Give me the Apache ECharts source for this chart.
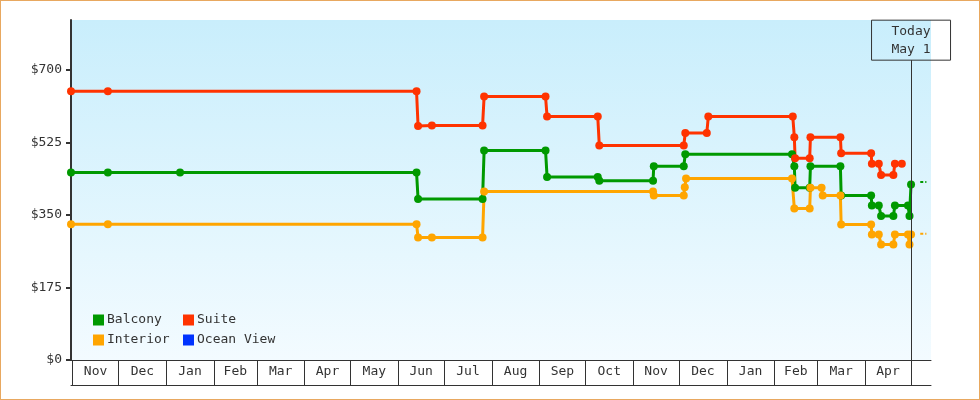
<!DOCTYPE html>
<html>
<head>
<meta charset="utf-8">
<script src="https://cdn.jsdelivr.net/npm/echarts@6/dist/echarts.min.js"></script>
<style>
html,body{margin:0;padding:0;background:#fff;}
#wrap{position:relative;width:980px;height:400px;}
#chart{position:absolute;left:0;top:0;width:980px;height:400px;}
#frame{position:absolute;left:0;top:0;width:980px;height:400px;box-sizing:border-box;border:1px solid #e8a860;pointer-events:none;}
</style>
</head>
<body>
<div id="wrap"><div id="chart"></div><div id="frame"></div></div>
<script>
// ---- data ----
const suiteDates = ['2021-10-31','2021-11-24','2022-06-13','2022-06-14','2022-06-23','2022-07-26','2022-07-27','2022-09-05','2022-09-06','2022-10-09','2022-10-10','2022-12-04','2022-12-05','2022-12-19','2022-12-20','2023-02-13','2023-02-14','2023-02-14 12:00','2023-02-24','2023-02-24 12:00','2023-03-16','2023-03-16 12:00','2023-04-05','2023-04-05 12:00','2023-04-10','2023-04-11 12:00','2023-04-19 12:00','2023-04-20 12:00','2023-04-25'];
const suiteValues = [649,649,649,565,566,566,636,636,588,588,518,518,548,548,588,588,538,487,487,538,538,499,499,474,474,447,447,474,474];

const balconyDates = ['2021-10-31','2021-11-24','2022-01-10','2022-06-13','2022-06-14','2022-07-26','2022-07-27','2022-09-05','2022-09-06','2022-10-09','2022-10-10','2022-11-14','2022-11-14 12:00','2022-12-04','2022-12-05','2023-02-12 12:00','2023-02-14','2023-02-14 12:00','2023-02-24','2023-02-24 12:00','2023-03-16','2023-03-16 12:00','2023-04-05','2023-04-05 12:00','2023-04-10','2023-04-11 12:00','2023-04-19 12:00','2023-04-20 12:00','2023-04-29','2023-04-30','2023-05-01'];
const balconyValues = [453,453,453,453,389,389,506,506,442,442,433,433,468,468,497,497,468,416,416,468,468,397,397,373,373,348,348,373,373,348,424];

const interiorDates = ['2021-10-31','2021-11-24','2022-06-13','2022-06-14','2022-06-23','2022-07-26','2022-07-27','2022-11-14','2022-11-14 12:00','2022-12-04','2022-12-04 16:00','2022-12-05 12:00','2023-02-12 12:00','2023-02-14','2023-02-24','2023-02-24 12:00','2023-03-03 18:00','2023-03-04 12:00','2023-03-16','2023-03-16 12:00','2023-04-05','2023-04-05 12:00','2023-04-10','2023-04-11 12:00','2023-04-19 12:00','2023-04-20 12:00','2023-04-29','2023-04-30','2023-05-01'];
const interiorValues = [328,328,328,296,296,296,407,407,397,397,417,438,438,366,366,416,416,397,397,327,327,303,303,279,279,303,303,279,303];

const oceanViewDates = [];
const oceanViewValues = [];

const projectionDates = ['2023-05-07','2023-05-11'];
const balconyProjection = [430,430];
const interiorProjection = [305,305];

const monthStarts = ['2021-11-01','2021-12-01','2022-01-01','2022-02-01','2022-03-01','2022-04-01','2022-05-01','2022-06-01','2022-07-01','2022-08-01','2022-09-01','2022-10-01','2022-11-01','2022-12-01','2023-01-01','2023-02-01','2023-03-01','2023-04-01','2023-05-01'];
const monthLabels = ['Nov','Dec','Jan','Feb','Mar','Apr','May','Jun','Jul','Aug','Sep','Oct','Nov','Dec','Jan','Feb','Mar','Apr'];
const yTicks = [0,175,350,525,700];

const axisStart = '2021-10-31';
const axisEnd = '2023-05-14';
const today = '2023-05-01';
const todayLabel = 'Today\nMay 1';

// ---- helpers ----
function ts(s){
  const parts = s.split(' ');
  const d = parts[0].split('-').map(Number);
  const t = (parts[1] || '0:0').split(':').map(Number);
  return Date.UTC(d[0], d[1]-1, d[2], t[0], t[1]);
}
function pairs(dates, vals){ return dates.map((d,i)=>[ts(d), vals[i]]); }

const tickTs = monthStarts.map(ts);
const labelTs = monthLabels.map((m,i)=> (tickTs[i] + tickTs[i+1]) / 2);
const labelMap = {};
labelTs.forEach((v,i)=>{ labelMap[v] = monthLabels[i]; });

const FONT = 'DejaVu Sans Mono';
const C = {balcony:'#009900', suite:'#ff3300', interior:'#ffa500', ocean:'#0033ff'};

const chart = echarts.init(document.getElementById('chart'), null, {renderer:'canvas'});

function lineSeries(name, data, color){
  return {
    name, type:'line', data, color,
    symbol:'circle', symbolSize:8, showSymbol:true, showAllSymbol:true,
    lineStyle:{width:3, color},
    itemStyle:{color},
    emphasis:{disabled:true},
    z:3
  };
}

const todayTop = 724;

chart.setOption({
  animation:false,
  grid:{left:71, right:49, top:20, bottom:40, show:true, borderWidth:0,
    backgroundColor:new echarts.graphic.LinearGradient(0,0,0,1,[{offset:0,color:'#c9eefc'},{offset:1,color:'#f3fbff'}])},
  legend:[
    {data:['Balcony','Interior'], orient:'vertical', left:93, top:313, padding:0, itemGap:6,
     icon:'rect', itemWidth:11, itemHeight:11, selectedMode:false,
     textStyle:{color:'#333', fontFamily:FONT, fontSize:13, lineHeight:14, padding:[0,0,0,-2]}},
    {data:['Suite','Ocean View'], orient:'vertical', left:183, top:313, padding:0, itemGap:6,
     icon:'rect', itemWidth:11, itemHeight:11, selectedMode:false,
     textStyle:{color:'#333', fontFamily:FONT, fontSize:13, lineHeight:14, padding:[0,0,0,-2]}}
  ],
  xAxis:[
    {type:'value', min:ts(axisStart), max:ts(axisEnd), scale:true,
     axisLine:{show:true, lineStyle:{color:'#333', width:1}},
     axisTick:{show:true, length:25, inside:false, customValues:tickTs, lineStyle:{color:'#333', width:1}},
     axisLabel:{show:true, customValues:labelTs, margin:5, color:'#333', fontFamily:FONT, fontSize:13,
       formatter:(v)=>labelMap[v] || ''},
     splitLine:{show:false}},
    {type:'value', min:ts(axisStart), max:ts(axisEnd), scale:true, position:'bottom', offset:25,
     axisLine:{show:true, lineStyle:{color:'#333', width:1}},
     axisTick:{show:false}, axisLabel:{show:false}, splitLine:{show:false}}
  ],
  yAxis:{type:'value', min:0, max:821, interval:175,
    axisLine:{show:true, lineStyle:{color:'#333', width:2}},
    axisTick:{show:true, length:5, customValues:yTicks, lineStyle:{color:'#333', width:2}},
    axisLabel:{customValues:yTicks, margin:9, color:'#333', fontFamily:FONT, fontSize:13,
      formatter:(v)=>'$'+v},
    splitLine:{show:false}},
  series:[
    lineSeries('Balcony', pairs(balconyDates, balconyValues), C.balcony),
    lineSeries('Suite', pairs(suiteDates, suiteValues), C.suite),
    lineSeries('Interior', pairs(interiorDates, interiorValues), C.interior),
    lineSeries('Ocean View', pairs(oceanViewDates, oceanViewValues), C.ocean),
    {name:'Balcony projection', type:'line', data:pairs(projectionDates, balconyProjection), showSymbol:false,
     lineStyle:{color:C.balcony, width:2, type:[3,2]}, emphasis:{disabled:true}, z:2},
    {name:'Interior projection', type:'line', data:pairs(projectionDates, interiorProjection), showSymbol:false,
     lineStyle:{color:C.interior, width:2, type:[3,2]}, emphasis:{disabled:true}, z:2},
    {name:'today', type:'line', data:[], clip:false, z:1,
     markLine:{silent:true, symbol:['none','none'], animation:false,
       lineStyle:{color:'#333', width:1, type:'solid'},
       label:{show:true, position:'start', distance:0, formatter:todayLabel, color:'#333',
         fontFamily:FONT, fontSize:13, lineHeight:18, width:79, align:'center',
         padding:[2,0,2,0], borderColor:'#333', borderWidth:1},
       data:[[{coord:[ts(today), todayTop]},{coord:[ts(today), 0]}]]}}
  ]
});
</script>
</body>
</html>
